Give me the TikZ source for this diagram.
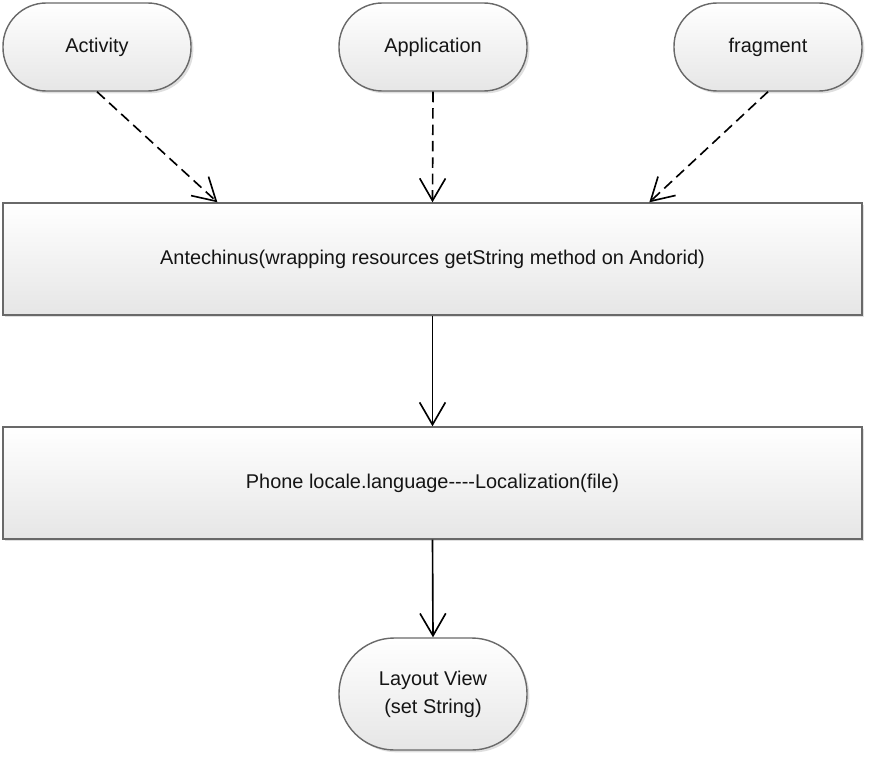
\documentclass[tikz,border=0pt]{standalone}
\usepackage{fontspec}
\setmainfont{Liberation Sans}
\usetikzlibrary{arrows.meta,shadows,calc}
\definecolor{rimgray}{RGB}{105,105,105}
\definecolor{fillbottom}{RGB}{230,230,230}
\definecolor{textgray}{RGB}{20,20,20}

\begin{document}
\begin{tikzpicture}[x=0.03cm,y=-0.03cm,
		every node/.style={font=\fontsize{17}{24}\selectfont,text=textgray,align=center},
		shaded/.style={draw=rimgray,line width=1.2pt,top color=white,bottom color=fillbottom,
			drop shadow={shadow xshift=2pt,shadow yshift=-2pt,opacity=0.25,fill=gray}},
		pill/.style={shaded,rounded corners=1.3cm,minimum width=5.64cm,minimum height=2.64cm},
		bigpill/.style={shaded,rounded corners=1.66cm,minimum width=5.64cm,minimum height=3.36cm},
		wide/.style={shaded,minimum width=25.77cm,minimum height=3.36cm},
		uses/.style={-{Straight Barb[length=19pt,width=22pt]},line width=1.4pt,dash pattern=on 9pt off 5pt},
		flow/.style={-{Straight Barb[length=19pt,width=22pt]},line width=1.4pt}]
		\useasboundingbox (0,0) rectangle (870,758);
		% sources
		\node[pill] (act) at (97,47) {Activity};
		\node[pill] (app) at (433,47) {Application};
		\node[pill] (frag) at (768,47) {fragment};
		% wrapper and lookup
		\node[wide] (ante) at (432.5,259) {Antechinus(wrapping resources getString method on Andorid)};
		\node[wide] (phone) at (432.5,483) {Phone locale.language-{}-{}-{}-Localization(file)};
		\node[bigpill] (view) at (433,694) {Layout View\\(set String)};
		
		\coordinate (anteL) at ($(ante.north west)!0.25!(ante.north east)$);
		\coordinate (anteR) at ($(ante.north west)!0.752!(ante.north east)$);
		
		\draw[uses] (act.south) -- (anteL);
		\draw[uses] (app.south) -- (ante.north);
		\draw[uses] (frag.south) -- (anteR);
		\draw[flow] (ante.south) -- (phone.north);
		\draw[flow] (phone.south) -- (view.north);
	\end{tikzpicture}
\end{document}
